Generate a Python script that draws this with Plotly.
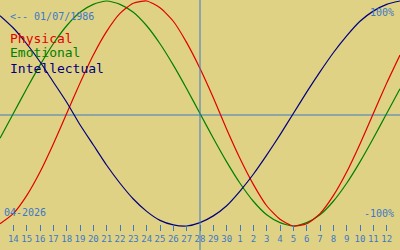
import plotly.graph_objects as go

# Day index: 13 = 13 April 2026 ... 43 = 13 May 2026 (center 28 April)
days = list(range(13, 44))
physical = [-0.98, -0.89, -0.73, -0.52, -0.27, 0.00, 0.27, 0.52, 0.73, 0.89, 0.98, 1.00,
            0.94, 0.82, 0.63, 0.40, 0.14, -0.14, -0.40, -0.63, -0.82, -0.94, -1.00, -0.98,
            -0.89, -0.73, -0.52, -0.27, 0.00, 0.27, 0.52]
emotional = [-0.22, 0.00, 0.22, 0.43, 0.62, 0.78, 0.90, 0.97, 1.00, 0.97, 0.90, 0.78,
             0.62, 0.43, 0.22, 0.00, -0.22, -0.43, -0.62, -0.78, -0.90, -0.97, -1.00, -0.97,
             -0.90, -0.78, -0.62, -0.43, -0.22, 0.00, 0.22]
intellectual = [0.87, 0.76, 0.62, 0.46, 0.28, 0.10, -0.10, -0.28, -0.46, -0.62, -0.76, -0.87,
                -0.95, -0.99, -1.00, -0.97, -0.91, -0.82, -0.69, -0.54, -0.37, -0.19, 0.00, 0.19,
                0.37, 0.54, 0.69, 0.82, 0.91, 0.97, 1.00]
tick_days = list(range(14, 43))
tick_labels = [str(d) if d <= 30 else str(d - 30) for d in tick_days]
center_day = 28

BG = "#E0D284"
BLUE = "#3C78C8"
RED = "#E00000"
GREEN = "#008000"
NAVY = "#000080"
FONT = "DejaVu Sans Mono"

fig = go.Figure()
for vals, col in [(emotional, GREEN), (physical, RED), (intellectual, NAVY)]:
    fig.add_trace(go.Scatter(x=days, y=vals, mode="lines",
                             line=dict(color=col, width=1.2, shape="spline", smoothing=0.6),
                             hoverinfo="skip", showlegend=False))

# vertical line at current day, horizontal zero line
fig.add_shape(type="line", xref="x", yref="paper", x0=center_day, x1=center_day, y0=0, y1=1,
              line=dict(color=BLUE, width=1), layer="above")
fig.add_shape(type="line", xref="paper", yref="paper", x0=0, x1=1, y0=1 - 115 / 250, y1=1 - 115 / 250,
              line=dict(color=BLUE, width=1), layer="below")

def ann(text, px, py, color, size, xanchor="left"):
    fig.add_annotation(text=text, xref="paper", yref="paper", x=px / 400, y=1 - py / 250,
                       xanchor=xanchor, yanchor="middle", showarrow=False,
                       font=dict(family=FONT, size=size, color=color))

ann("<-- 01/07/1986", 8, 16.5, BLUE, 10)
ann("Physical", 8, 38, RED, 13)
ann("Emotional", 8, 53, GREEN, 13)
ann("Intellectual", 8, 68, NAVY, 13)
ann("100%", 396, 12, BLUE, 10, "right")
ann("-100%", 396, 213, BLUE, 10, "right")
ann("04-2026", 2, 212, BLUE, 10)

fig.update_layout(
    width=400, height=250, margin=dict(l=0, r=0, t=0, b=0),
    paper_bgcolor=BG, plot_bgcolor=BG,
    xaxis=dict(range=[13, 43], showgrid=False, zeroline=False, showline=False,
               anchor="free", position=1 - 224 / 250, side="bottom",
               tickmode="array", tickvals=tick_days, ticktext=tick_labels,
               ticks="outside", ticklen=6, tickwidth=1, tickcolor=BLUE,
               tickfont=dict(family=FONT, size=9, color=BLUE)),
    yaxis=dict(range=[-1.2133, 1.0089], visible=False, showgrid=False, zeroline=False),
)

fig.write_html("out.html")
